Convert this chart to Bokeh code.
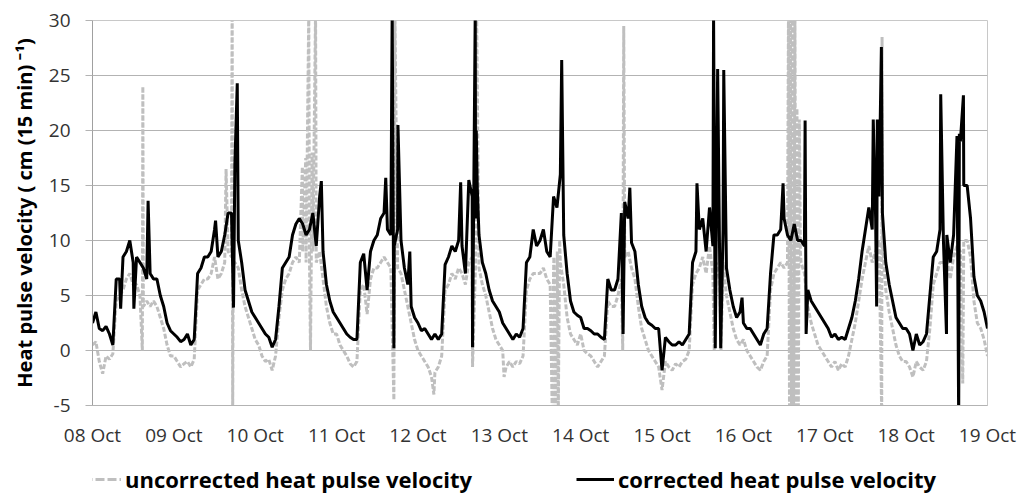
from bokeh.plotting import figure
from bokeh.layouts import column
from bokeh.models import FixedTicker, Legend, LegendItem, Range1d
from bokeh.embed import file_html
from bokeh.resources import INLINE

# Axis labels (one per midnight, 08 Oct .. 19 Oct)
day_labels = ["08 Oct", "09 Oct", "10 Oct", "11 Oct", "12 Oct", "13 Oct",
              "14 Oct", "15 Oct", "16 Oct", "17 Oct", "18 Oct", "19 Oct"]
y_ticks = [-5, 0, 5, 10, 15, 20, 25, 30]

# Corrected heat pulse velocity, cm (15 min)^-1, read at every full hour (00..23)
corr_08 = [2.5, 3.5, 2.0, 1.8, 2.2, 1.5, 0.5, 6.5, 6.5, 8.5, 9.0, 10.0, 8.0, 8.5, 8.0, 7.5, 6.5, 7.0, 6.5, 6.5, 5.0, 4.0, 2.5, 1.8]
corr_09 = [1.5, 1.2, 0.8, 1.0, 1.5, 0.5, 1.0, 7.0, 7.5, 8.5, 8.5, 9.0, 11.0, 8.5, 9.0, 10.5, 12.5, 12.5, 17.0, 10.0, 8.0, 5.5, 4.5, 3.5]
corr_10 = [3.0, 2.5, 2.0, 1.5, 1.2, 0.3, 1.0, 4.0, 7.5, 8.0, 8.5, 10.5, 11.5, 12.0, 11.5, 10.5, 11.0, 12.5, 9.5, 14.0, 9.0, 6.0, 4.5, 3.5]
corr_11 = [3.0, 2.5, 2.0, 1.5, 1.2, 1.0, 1.0, 8.0, 8.8, 5.5, 9.0, 10.0, 10.5, 12.0, 12.5, 11.0, 10.5, 9.5, 11.0, 10.0, 7.5, 6.0, 4.0, 3.0]
corr_12 = [2.5, 1.8, 2.0, 1.5, 1.0, 1.5, 1.0, 1.5, 7.8, 8.5, 9.5, 9.0, 10.0, 9.5, 7.0, 15.5, 14.0, 12.0, 10.5, 8.0, 7.0, 5.5, 4.5, 4.0]
corr_13 = [3.5, 2.5, 2.0, 1.5, 1.0, 1.5, 1.2, 2.0, 8.0, 8.5, 11.0, 9.5, 10.0, 11.0, 9.0, 8.5, 14.0, 13.0, 16.0, 10.5, 7.0, 4.5, 3.5, 3.2]
corr_14 = [3.0, 2.0, 2.0, 1.8, 1.5, 1.5, 1.2, 1.0, 6.5, 5.5, 5.5, 6.5, 12.5, 13.5, 12.0, 9.8, 9.0, 6.0, 4.0, 3.0, 2.5, 2.3, 2.0, 2.0]
corr_15 = [-1.8, 1.2, 0.8, 0.5, 0.5, 0.8, 0.5, 1.0, 1.5, 8.0, 9.0, 11.0, 12.0, 9.0, 13.0, 9.5, 11.0, 8.0, 11.0, 7.5, 5.5, 4.0, 3.0, 3.5]
corr_16 = [2.5, 2.0, 2.0, 1.5, 1.0, 0.5, 1.5, 2.0, 7.0, 10.5, 10.5, 11.0, 12.0, 10.5, 10.0, 11.5, 10.0, 10.0, 9.5, 5.5, 4.5, 4.0, 3.5, 3.0]
corr_17 = [2.5, 2.0, 1.2, 1.5, 1.0, 1.2, 1.0, 2.0, 3.0, 4.5, 6.5, 9.0, 11.0, 13.0, 11.0, 12.0, 14.0, 12.5, 8.0, 6.0, 4.5, 3.0, 2.5, 2.0]
corr_18 = [2.0, 1.5, 0.0, 1.5, 0.5, 0.8, 1.5, 5.0, 8.5, 9.0, 11.0, 10.0, 10.5, 8.0, 10.5, 19.5, 19.0, 15.0, 15.0, 12.0, 6.7, 5.0, 4.5, 3.5]
corr_last = 2.0  # 19 Oct 00:00

# Short excursions of the corrected series between the hourly readings: (day index, hour, value)
corr_spikes = [
    (0, 8.3, 3.8), (0, 12.2, 3.8), (0, 16.4, 13.6),
    (1, 12.3, 11.8), (1, 17.6, 3.9), (1, 18.7, 24.3),
    (2, 19.5, 15.4),
    (3, 14.5, 15.7), (3, 16.4, 31.0), (3, 16.9, 0.2), (3, 18.1, 20.5), (3, 21.6, 9.0),
    (4, 12.6, 15.3), (4, 16.1, 0.3), (4, 16.9, 31.0), (4, 17.2, 20.0), (4, 17.5, 14.8),
    (5, 18.4, 26.4),
    (6, 12.5, 1.5), (6, 14.5, 14.8),
    (7, 10.3, 15.2), (7, 15.2, 30.5), (7, 15.7, 0.2), (7, 16.4, 25.6), (7, 17.3, 0.2),
    (7, 18.2, 25.5), (7, 23.6, 4.8),
    (8, 11.7, 15.2), (8, 18.2, 20.9), (8, 18.5, 1.5),
    (9, 14.3, 21.0), (9, 15.3, 4.0), (9, 15.5, 21.0), (9, 16.7, 27.6),
    (10, 10.2, 23.3), (10, 11.9, 1.5), (10, 15.5, -6.5), (10, 15.7, 19.7), (10, 16.9, 23.2),
]

# Uncorrected heat pulse velocity, same hourly readings
unc_08 = [0.5, 0.8, -1.0, -2.1, -0.5, -0.8, -0.3, 4.5, 5.0, 5.5, 6.5, 7.0, 6.0, 6.0, 5.0, 4.0, 4.5, 4.0, 4.5, 4.0, 3.0, 2.0, 0.5, -0.5]
unc_09 = [-0.5, -1.0, -1.5, -1.2, -1.0, -1.5, -0.8, 5.5, 6.0, 6.5, 6.5, 7.0, 8.5, 6.5, 7.0, 8.0, 9.0, 8.5, 8.0, 7.5, 5.5, 4.0, 3.0, 2.0]
unc_10 = [1.0, 0.5, -0.5, -1.0, -0.8, -1.8, -0.5, 3.0, 5.5, 6.5, 7.0, 8.0, 8.5, 8.0, 9.0, 8.0, 8.5, 9.0, 8.0, 9.0, 6.5, 4.0, 2.5, 1.5]
unc_11 = [1.5, 0.5, 0.0, -0.5, -1.2, -1.5, -1.0, 5.5, 6.0, 3.3, 6.5, 7.5, 7.5, 8.0, 8.5, 8.0, 7.5, 7.0, 7.5, 7.0, 5.5, 4.0, 2.5, 1.0]
unc_12 = [0.0, -0.5, -1.0, -1.5, -2.4, -2.0, -1.5, -0.5, 5.5, 6.0, 7.0, 6.5, 7.5, 7.0, 6.0, 8.0, 8.5, 8.0, 7.5, 6.0, 5.0, 3.5, 2.0, 1.0]
unc_13 = [0.5, 0.0, -1.5, -1.0, -1.5, -1.0, -1.2, -0.5, 5.5, 6.5, 7.0, 7.0, 7.0, 7.5, 6.5, 6.0, 7.0, 6.5, 8.0, 6.0, 3.0, 1.5, 1.0, 0.5]
unc_14 = [1.5, 0.0, -0.3, -0.5, -1.0, -1.5, -1.0, -0.5, 4.5, 4.0, 4.0, 5.0, 6.5, 8.5, 9.0, 7.5, 6.5, 4.0, 2.0, 1.0, 0.0, -0.5, -1.0, -1.5]
unc_15 = [-3.6, -1.0, -1.5, -1.8, -1.2, -1.5, -1.0, -0.8, 0.0, 6.0, 7.0, 7.5, 8.5, 7.0, 9.5, 7.0, 8.0, 6.5, 8.0, 5.0, 3.5, 2.0, 1.0, 0.5]
unc_16 = [1.0, 0.0, -0.5, -1.0, -1.5, -1.8, -1.0, -0.5, 5.5, 7.0, 7.5, 8.0, 7.5, 8.0, 8.0, 8.5, 9.0, 8.0, 7.0, 4.0, 2.5, 1.5, 0.5, 0.0]
unc_17 = [-0.5, -1.0, -1.5, -1.0, -1.8, -1.2, -1.5, -0.5, 1.0, 2.5, 4.5, 6.5, 8.0, 9.5, 8.0, 9.0, 10.0, 9.5, 5.5, 3.5, 2.0, 0.5, -0.5, -1.0]
unc_18 = [-1.0, -1.5, -2.4, -1.0, -1.5, -1.8, -1.0, 2.0, 6.0, 7.0, 8.0, 8.0, 8.5, 6.5, 8.5, 9.5, 9.0, 10.0, 10.0, 8.5, 4.5, 2.5, 2.0, 1.0]
unc_last = -0.5

unc_spikes = [
    (0, 14.7, 0.0), (0, 14.85, 24.0),
    (1, 15.4, 16.5), (1, 17.2, 33.0), (1, 17.35, -6.0), (1, 17.5, 8.0),
    (2, 13.9, 16.7), (2, 14.9, 17.5), (2, 15.8, 31.0), (2, 16.3, 0.0), (2, 16.8, 18.0), (2, 17.8, 31.0),
    (3, 16.9, -4.5), (3, 17.2, 31.0),
    (4, 4.7, -4.0), (4, 16.1, -1.5), (4, 17.3, 31.0),
    (5, 1.4, -2.4), (5, 15.6, -5.5), (5, 16.1, 8.5), (5, 16.5, -5.5), (5, 17.1, 9.0),
    (5, 17.4, -5.5), (5, 17.8, 10.0),
    (6, 12.4, 0.0), (6, 12.7, 29.5),
    (7, 15.4, 0.0), (7, 17.4, 0.0),
    (8, 13.3, 31.0), (8, 13.6, -6.0), (8, 13.9, 31.0), (8, 14.2, -6.0), (8, 14.5, 32.0),
    (8, 14.8, -6.0), (8, 15.2, 31.0), (8, 15.5, -6.0), (8, 15.8, 22.0), (8, 16.2, -6.0),
    (8, 16.5, 21.0), (8, 16.8, 9.0),
    (9, 16.8, -6.0), (9, 16.9, 28.5),
    (10, 16.7, -3.0),
]

corr_days = [corr_08, corr_09, corr_10, corr_11, corr_12, corr_13,
             corr_14, corr_15, corr_16, corr_17, corr_18]
unc_days = [unc_08, unc_09, unc_10, unc_11, unc_12, unc_13,
            unc_14, unc_15, unc_16, unc_17, unc_18]


def build_series(days, last, spikes):
    """Merge hourly readings and spikes into one time-ordered series (x in days)."""
    pts = []
    for d, vals in enumerate(days):
        for h, v in enumerate(vals):
            pts.append((d + h / 24.0, v))
    pts.append((float(len(days)), last))
    for d, h, v in spikes:
        pts.append((d + h / 24.0, v))
    pts.sort(key=lambda p: p[0])
    return [p[0] for p in pts], [p[1] for p in pts]


cx, cy = build_series(corr_days, corr_last, corr_spikes)
ux, uy = build_series(unc_days, unc_last, unc_spikes)

FONT = "Open Sans"
GRAY = "#bfbfbf"
GRID = "#b3b3b3"

p = figure(width=1019, height=455, output_backend="svg", toolbar_location=None,
           x_range=Range1d(0, 11), y_range=Range1d(-5, 30),
           min_border_left=92, min_border_right=32, min_border_top=20, min_border_bottom=50)
p.background_fill_color = "white"
p.border_fill_color = "white"
p.outline_line_color = "#c8c8c8"

p.line(ux, uy, line_color=GRAY, line_width=3, line_dash="5 2")
p.line(cx, cy, line_color="black", line_width=3)

# y axis
p.yaxis.ticker = FixedTicker(ticks=y_ticks)
p.yaxis.major_label_overrides = {t: str(t) for t in y_ticks}
p.yaxis.axis_label = "Heat pulse velocity ( cm (15 min) \u207b\u00b9)"
p.yaxis.axis_label_text_font = FONT
p.yaxis.axis_label_text_font_style = "bold"
p.yaxis.axis_label_text_font_size = "20px"
p.yaxis.axis_label_text_color = "#000000"
p.yaxis.axis_label_standoff = 8
p.yaxis.major_label_text_font = FONT
p.yaxis.major_label_text_font_size = "19px"
p.yaxis.major_label_text_color = "#333333"
p.yaxis.major_label_standoff = 15
p.yaxis.axis_line_color = "#a0a0a0"
p.yaxis.major_tick_line_color = GRID
p.yaxis.major_tick_out = 7
p.yaxis.major_tick_in = 0
p.yaxis.minor_tick_line_color = None

# x axis: one label per day
p.xaxis.ticker = FixedTicker(ticks=list(range(len(day_labels))))
p.xaxis.major_label_overrides = {i: lab for i, lab in enumerate(day_labels)}
p.xaxis.major_label_text_font = FONT
p.xaxis.major_label_text_font_size = "19px"
p.xaxis.major_label_text_color = "#333333"
p.xaxis.major_label_standoff = 16
p.xaxis.axis_line_color = GRID
p.xaxis.major_tick_line_color = None
p.xaxis.major_tick_out = 0
p.xaxis.major_tick_in = 0
p.xaxis.minor_tick_line_color = None

p.xgrid.visible = False
p.ygrid.ticker = FixedTicker(ticks=y_ticks)
p.ygrid.grid_line_color = GRID
p.ygrid.grid_line_width = 1

# legend strip underneath the chart (its frame lines up with the chart frame)
leg_fig = figure(width=1019, height=42, output_backend="svg", toolbar_location=None,
                 x_range=Range1d(0, 1), y_range=Range1d(0, 1),
                 min_border=0, x_axis_location=None, y_axis_location=None)
leg_fig.outline_line_color = None
leg_fig.grid.visible = False
leg_fig.background_fill_color = "white"
leg_fig.border_fill_color = "white"
nan = float("nan")
key_unc = leg_fig.line([nan], [nan], line_color=GRAY, line_width=3, line_dash="9 3")
key_cor = leg_fig.line([nan], [nan], line_color="black", line_width=3)
legend = Legend(
    items=[LegendItem(label="uncorrected heat pulse velocity", renderers=[key_unc]),
           LegendItem(label="corrected heat pulse velocity", renderers=[key_cor])],
    orientation="horizontal", location=(-9, 3),
    glyph_width=38, glyph_height=20, label_standoff=4, spacing=104,
    padding=0, margin=0, border_line_color=None, background_fill_alpha=0,
    label_text_font=FONT, label_text_font_style="bold", label_text_font_size="22px",
    label_text_color="#000000",
)
leg_fig.add_layout(legend, "center")

layout = column(p, leg_fig, spacing=0)
open("out.html", "w").write(file_html(layout, INLINE))
